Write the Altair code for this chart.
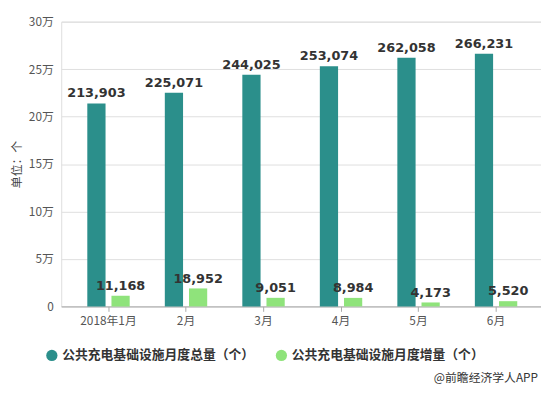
import altair as alt
import pandas as pd

months = ["2018年1月", "2月", "3月", "4月", "5月", "6月"]
total = [213903, 225071, 244025, 253074, 262058, 266231]
increase = [11168, 18952, 9051, 8984, 4173, 5520]
series_names = ["公共充电基础设施月度总量（个）", "公共充电基础设施月度增量（个）"]
colors = ["#2b8f8b", "#8fe37b"]

rows = []
for m, t, inc in zip(months, total, increase):
    rows.append({"month": m, "series": series_names[0], "value": t, "label": f"{t:,}"})
    rows.append({"month": m, "series": series_names[1], "value": inc, "label": f"{inc:,}"})
df = pd.DataFrame(rows)

FONT = "Noto Sans CJK SC"

x_enc = alt.X("month:N", sort=months, title=None,
              scale=alt.Scale(paddingInner=0, paddingOuter=0.095, align=0.58),
              axis=alt.Axis(labelAngle=0, labelColor="#555", labelFontSize=12, labelFont=FONT,
                            domainColor="#aaa", tickColor="#aaa", tickSize=5,
                            labelPadding=4, grid=False))
xoff = alt.XOffset("series:N", sort=series_names,
                   scale=alt.Scale(paddingInner=0.245, paddingOuter=0.727))
y_enc = alt.Y("value:Q", title="单位：个",
              scale=alt.Scale(domain=[0, 300000], nice=False),
              axis=alt.Axis(values=[0, 50000, 100000, 150000, 200000, 250000, 300000],
                            labelExpr="datum.value == 0 ? '0' : (datum.value / 10000) + '万'",
                            labelColor="#555", labelFontSize=12, labelFont=FONT,
                            labelPadding=8, ticks=False, domain=False,
                            gridColor="#dedede", titleColor="#444", titleFontSize=12,
                            titleFont=FONT, titleFontWeight="normal", titlePadding=5))
color_enc = alt.Color("series:N", sort=series_names,
                      scale=alt.Scale(domain=series_names, range=colors),
                      legend=alt.Legend(title=None, orient="none", direction="horizontal",
                                        legendX=-16, legendY=332, symbolType="circle",
                                        symbolSize=130, symbolStrokeWidth=0,
                                        labelFont=FONT, labelFontSize=13, labelFontWeight="bold",
                                        labelColor="#333", columnPadding=20, labelLimit=300))

base = alt.Chart(df).encode(x=x_enc, xOffset=xoff)

bars = base.mark_bar().encode(y=y_enc, color=color_enc)
labels = base.mark_text(dy=-10, fontSize=13, fontWeight="bold", font="DejaVu Sans",
                        color="#333").encode(y=alt.Y("value:Q"), text="label:N")

source = alt.Chart(pd.DataFrame({"t": ["@前瞻经济学人APP"]})).mark_text(
    align="right", baseline="middle", fontSize=12, font=FONT, color="#333"
).encode(x=alt.value(484), y=alt.value(362), text="t:N")

chart = alt.layer(bars, labels, source).properties(
    width=487, height=289, padding={"left": 54, "top": 11, "right": 0, "bottom": 86},
    autosize=alt.AutoSizeParams(type="none")
).configure_view(stroke=None).configure(background="white")

chart.save("out.html", embed_options={"renderer": "svg", "actions": False})
